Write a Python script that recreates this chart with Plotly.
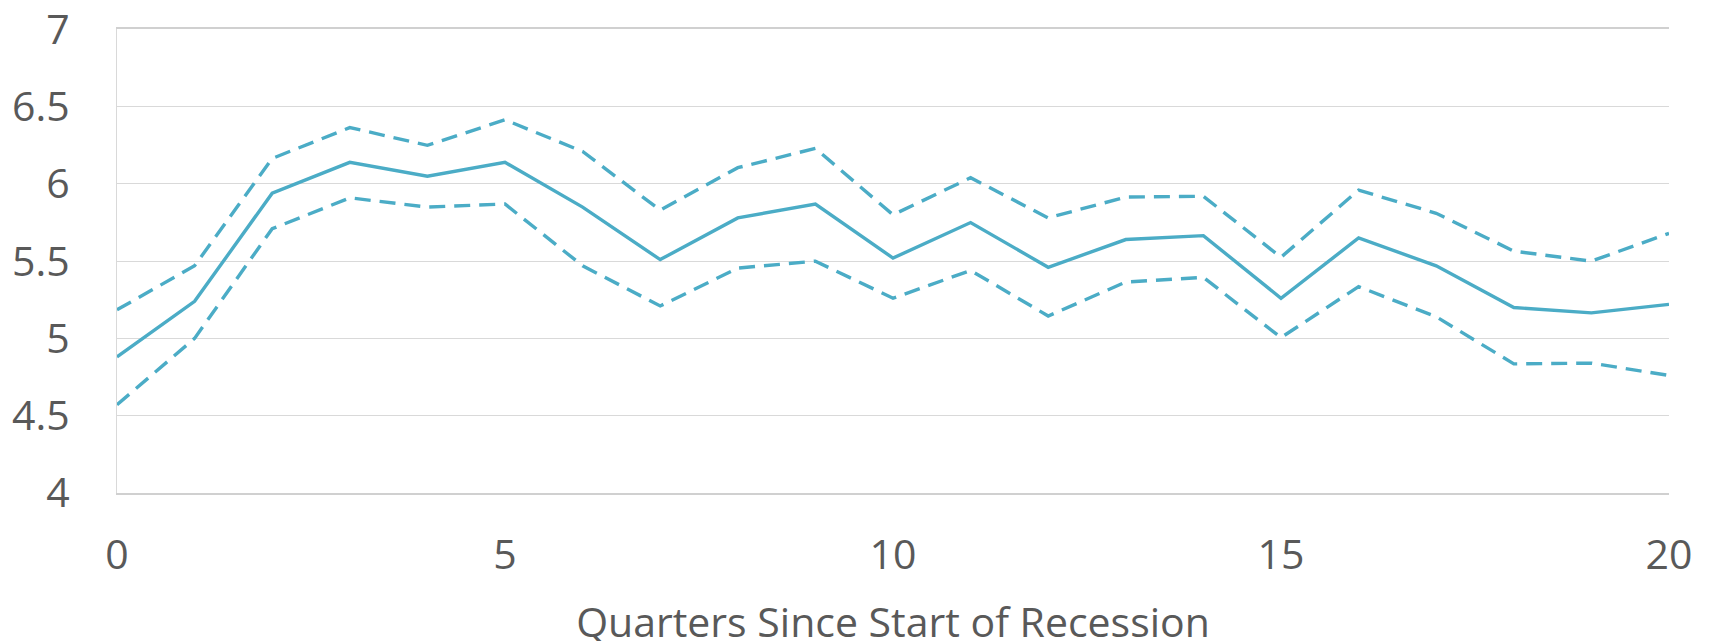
import plotly.graph_objects as go

quarters = list(range(0, 21))
central = [4.88, 5.24, 5.94, 6.14, 6.05, 6.14, 5.85, 5.51, 5.78, 5.87, 5.52,
           5.75, 5.46, 5.64, 5.665, 5.26, 5.65, 5.47, 5.20, 5.165, 5.22]
upper = [5.185, 5.47, 6.165, 6.365, 6.25, 6.415, 6.21, 5.83, 6.105, 6.23, 5.80,
         6.04, 5.78, 5.915, 5.92, 5.525, 5.96, 5.81, 5.565, 5.50, 5.68]
lower = [4.57, 5.00, 5.71, 5.91, 5.85, 5.87, 5.47, 5.21, 5.455, 5.50, 5.26,
         5.44, 5.145, 5.365, 5.395, 5.005, 5.335, 5.14, 4.835, 4.84, 4.76]

y_ticks = [4, 4.5, 5, 5.5, 6, 6.5, 7]
y_tick_labels = ["4", "4.5", "5", "5.5", "6", "6.5", "7"]
x_ticks = [0, 5, 10, 15, 20]
x_tick_labels = ["0", "5", "10", "15", "20"]
x_title = "Quarters Since Start of Recession"

color = "#4BACC6"
text_color = "#595959"
font_family = "Open Sans"
dash = "16px,9px"

fig = go.Figure()
fig.add_trace(go.Scatter(x=quarters, y=upper, mode="lines",
                         line=dict(color=color, width=3.4, dash=dash),
                         showlegend=False, name="Upper"))
fig.add_trace(go.Scatter(x=quarters, y=lower, mode="lines",
                         line=dict(color=color, width=3.4, dash=dash),
                         showlegend=False, name="Lower"))
fig.add_trace(go.Scatter(x=quarters, y=central, mode="lines",
                         line=dict(color=color, width=3.4),
                         showlegend=False, name="Central"))

# the page body adds an 8px offset, so margins are shifted to compensate
fig.update_layout(
    width=1709, height=641, autosize=False,
    margin=dict(l=109, r=48, t=21, b=156, pad=0),
    paper_bgcolor="white", plot_bgcolor="white",
    font=dict(family=font_family, size=41, color=text_color),
)
fig.update_xaxes(
    range=[0, 20], tickvals=x_ticks, ticktext=x_tick_labels,
    showgrid=False, zeroline=False, automargin=False,
    showline=True, linecolor="#D0D0D0", linewidth=1.5, mirror=True,
    ticks="", ticklabelstandoff=25, ticklabeloverflow="allow",
    tickfont=dict(family=font_family, size=41, color=text_color),
    title=dict(text=x_title, standoff=42,
               font=dict(family=font_family, size=41, color=text_color)),
)
fig.update_yaxes(
    range=[3.999, 7.003], tickvals=y_ticks, ticktext=y_tick_labels,
    showgrid=True, gridcolor="#D9D9D9", gridwidth=1.3,
    zeroline=False, automargin=False,
    showline=True, linecolor="#D9D9D9", linewidth=1.3,
    ticks="", ticklabelstandoff=38, ticklabeloverflow="allow",
    tickfont=dict(family=font_family, size=41, color=text_color),
)

fig.write_html("out.html")
